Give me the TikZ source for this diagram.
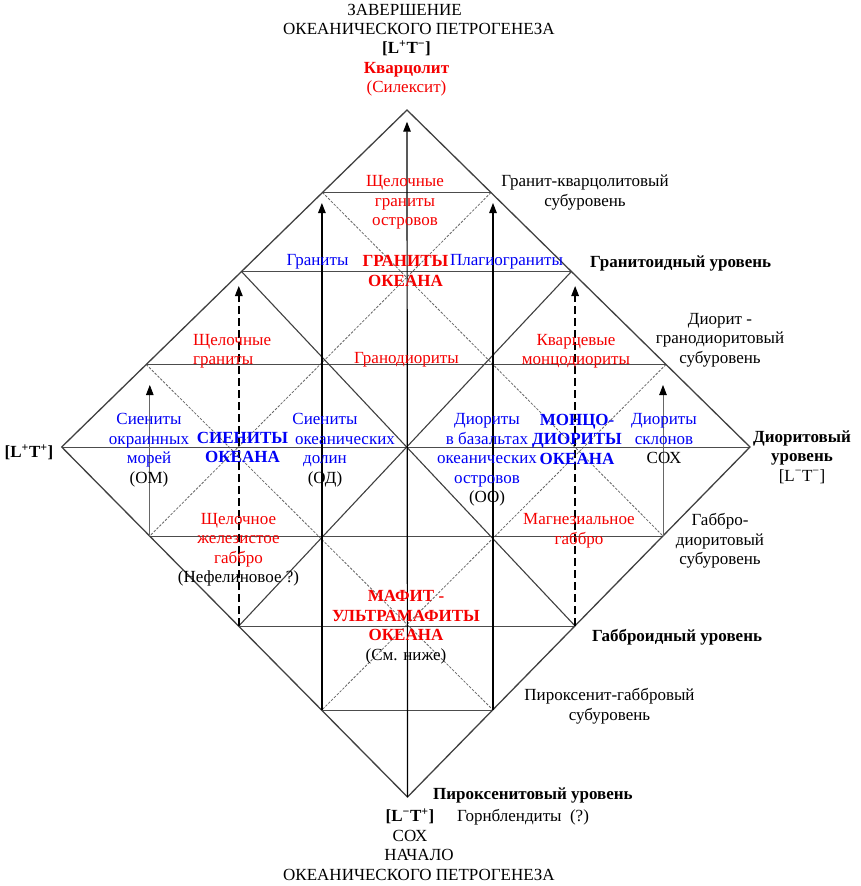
\documentclass[tikz,border=0pt]{standalone}
\usepackage{fontspec}
\setmainfont{Liberation Serif}
\usetikzlibrary{arrows.meta}
\definecolor{tred}{RGB}{245,0,0}
\definecolor{tblue}{RGB}{0,0,245}
\begin{document}
\begin{tikzpicture}[x=1pt,y=-1pt,
  txt/.style={inner sep=0pt,align=center,font=\fontsize{17}{19.5}\selectfont},
  edgeline/.style={line width=1.3pt,draw=black!75},
  hline/.style={line width=0.9pt,draw=black!70},
  xline/.style={line width=1.1pt,draw=black!75},
  dotline/.style={line width=0.8pt,draw=black!60,dash pattern=on 2.5pt off 1.5pt},
  arr/.style={line width=1.2pt,draw=black,-{Triangle[length=10pt,width=7.5pt]}},
  dasharr/.style={arr,line width=1.4pt,dash pattern=on 8pt off 4pt},
  thinarr/.style={line width=0.8pt,draw=black!60,-{Triangle[length=10pt,width=7.5pt,color=black]}}]
\fill[white] (0,0) rectangle (861,886);
\useasboundingbox (0,0) rectangle (861,886);
% outer vertices
\coordinate (T) at (407,110);
\coordinate (L) at (61.7,447);
\coordinate (R) at (750,447);
\coordinate (B) at (407.5,797);
% edge points per level
\coordinate (l3) at (322.5,192.5);
\coordinate (l2) at (241.5,271.5);
\coordinate (l1) at (146.2,364.5);
\coordinate (lm1) at (149.8,536);
\coordinate (lm2) at (238.8,626);
\coordinate (lm3) at (321.9,710);
\coordinate (r3) at (491,192.5);
\coordinate (r2) at (571.4,271.5);
\coordinate (r1) at (666,364.5);
\coordinate (rm1) at (663,536);
\coordinate (rm2) at (575.1,626);
\coordinate (rm3) at (493,710);
% grid
\draw[dotline] (l3) -- (rm1);
\draw[dotline] (r3) -- (lm1);
\draw[dotline] (l1) -- (rm3);
\draw[dotline] (r1) -- (lm3);
\draw[hline] (l3) -- (r3);
\draw[hline] (l2) -- (r2);
\draw[hline] (l1) -- (r1);
\draw[hline] (L) -- (R);
\draw[hline] (lm1) -- (rm1);
\draw[hline] (lm2) -- (rm2);
\draw[hline] (lm3) -- (rm3);
\draw[xline] (l2) -- (rm2);
\draw[xline] (lm2) -- (r2);
\draw[edgeline] (T) -- (R) -- (B) -- (L) -- cycle;
% arrows
\draw[arr,shorten >=11.7pt] (B) -- (T);
\draw[arr,shorten >=10.5pt] (lm3) -- (lm3 |- l3);
\draw[arr,shorten >=10.5pt] (rm3) -- (rm3 |- r3);
\draw[dasharr,shorten >=14.5pt] (lm2) -- (lm2 |- l2);
\draw[dasharr,shorten >=14.5pt] (rm2) -- (rm2 |- r2);
\draw[thinarr,shorten >=20.5pt] (lm1) -- (lm1 |- l1);
\draw[thinarr,shorten >=20.5pt] (rm1) -- (rm1 |- r1);
% outer texts
\node[txt] (title) at (419,19.4) {ЗАВЕРШЕНИЕ\hspace*{29pt}\\ОКЕАНИЧЕСКОГО ПЕТРОГЕНЕЗА};
\node[txt] (apex) at (406.5,68.5) {\textbf{[L\textsuperscript{+}T\textsuperscript{−}]}\\\textcolor{tred}{\textbf{Кварцолит}}\\\textcolor{tred}{(Силексит)}};
\node[txt] (lt) at (29,452) {\textbf{[L\textsuperscript{+}T\textsuperscript{+}]}};
\node[txt] (diorlvl) at (802,457) {\textbf{Диоритовый}\\\textbf{уровень}\\{[L\textsuperscript{−}T\textsuperscript{−}]}};
\node[txt] (bot1) at (410,825) {\textbf{[L\textsuperscript{−}T\textsuperscript{+}]}\\СОХ};
\node[txt] (bot2) at (419,865) {НАЧАЛО\\ОКЕАНИЧЕСКОГО ПЕТРОГЕНЕЗА};
\node[txt] (gkv) at (585,192.5) {Гранит-кварцолитовый\\субуровень};
\node[txt,anchor=west] (granlvl) at (590,263) {\textbf{Гранитоидный уровень}};
\node[txt] (dgd) at (720,340) {Диорит -\\гранодиоритовый\\субуровень};
\node[txt] (gd) at (720,541) {Габбро-\\диоритовый\\субуровень};
\node[txt,anchor=west] (gabblvl) at (592,637) {\textbf{Габброидный уровень}};
\node[txt] (pg) at (609.5,706) {Пироксенит-габбровый\\субуровень};
\node[txt,anchor=west] (pirlvl) at (433,795) {\textbf{Пироксенитовый уровень}};
\node[txt,anchor=west] (gorn) at (457,817) {Горнблендиты\ \ (?)};
% inner texts
\node[txt,text=tred] (shgo) at (405,202.5) {Щелочные\\граниты\\островов};
\node[txt,text=tblue] (gr1) at (317.5,262) {Граниты};
\node[txt,text=tred] (gro) at (405.5,271) {\textbf{ГРАНИТЫ}\\\textbf{ОКЕАНА}};
\node[txt,text=tblue] (plag) at (506.5,262) {Плагиограниты};
\node[txt,text=tred,align=left,anchor=west] (shg) at (193,351) {Щелочные\\граниты};
\node[txt,text=tred] (grd) at (406.5,360) {Гранодиориты};
\node[txt,text=tred] (kvm) at (576,351) {Кварцевые\\монцодиориты};
\node[txt,text=tblue] (som) at (149,450) {Сиениты\\окраинных\\морей\\\textcolor{black}{(ОМ)}};
\node[txt,text=tblue] (sio) at (242.5,447.5) {\textbf{СИЕНИТЫ}\\\textbf{ОКЕАНА}};
\node[txt,text=tblue] (sod) at (325,450) {Сиениты\\\hspace*{40pt}океанических\\долин\\\textcolor{black}{(ОД)}};
\node[txt,text=tblue] (dbo) at (487,460) {Диориты\\в базальтах\\океанических\hspace*{24pt}\\островов\\\textcolor{black}{(ОО)}};
\node[txt,text=tblue] (mdo) at (577,439) {\textbf{МОНЦО-}\\\textbf{ДИОРИТЫ}\\\textbf{ОКЕАНА}};
\node[txt,text=tblue] (dsk) at (664,439) {Диориты\\склонов\\\textcolor{black}{СОХ}};
\node[txt,text=tred] (shzg) at (238.5,549.5) {Щелочное\\железистое\\габбро\\\textcolor{black}{(Нефелиновое ?)}};
\node[txt,text=tred] (mg) at (579,530.5) {Магнезиальное\\габбро};
\node[txt,text=tred] (muo) at (406,627) {\textbf{МАФИТ -}\\\textbf{УЛЬТРАМАФИТЫ}\\\textbf{ОКЕАНА}\\\textcolor{black}{(См. ниже)}};
\end{tikzpicture}
\end{document}
